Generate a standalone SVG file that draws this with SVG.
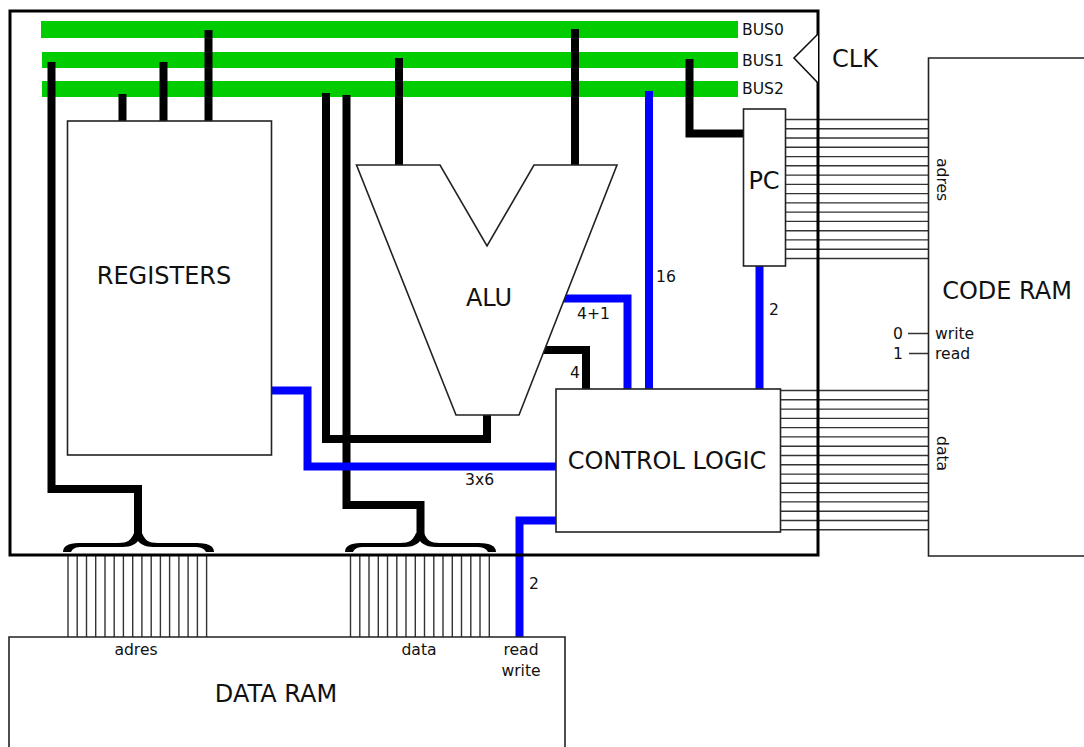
<svg xmlns="http://www.w3.org/2000/svg" width="1084" height="747" viewBox="0 0 1084 747">
<style>
text{font-family:"DejaVu Sans",sans-serif;fill:#111}
.s{font-size:15.600px}.l{font-size:24px}.m{font-size:24px}
.box{fill:#fff;stroke:#222;stroke-width:1.600}
.k{fill:none;stroke:#000;stroke-width:8}
.b{fill:none;stroke:#00f;stroke-width:8}
.w{fill:none;stroke:#333;stroke-width:1.400}
.g{fill:#0c0}
</style>
<defs><path id="brace" fill="#000" d="M-75 552C-75 544 -66 543 -56 543H-20C-10 543 -7 540 -4 533H4C7 540 10 543 20 543H56C66 543 76 544 76 552H68C66 548 62 547 56 547H18C10 547 4 546 0 541C-4 546 -10 547 -18 547H-56C-62 547 -65 548 -67 552Z"/></defs>
<rect width="1084" height="747" fill="#fff"/>
<g id="buses">
<rect class="g" x="41" y="21" width="697" height="17"/>
<rect class="g" x="42" y="52" width="696" height="16"/>
<rect class="g" x="42" y="81" width="696" height="16"/>
</g>
<g id="connectors">
<path class="w" d="M786 119.500H928M786 128.800H928M786 138H928M786 147.300H928M786 156.600H928M786 165.800H928M786 175.100H928M786 184.400H928M786 193.600H928M786 202.900H928M786 212.100H928M786 221.400H928M786 230.700H928M786 239.900H928M786 249.200H928M786 258.500H928"/>
<path class="w" d="M781 390.500H928M781 399.800H928M781 409.100H928M781 418.400H928M781 427.600H928M781 436.900H928M781 446.200H928M781 455.500H928M781 464.800H928M781 474.100H928M781 483.300H928M781 492.600H928M781 501.900H928M781 511.200H928M781 520.500H928M781 529.800H928"/>
<path class="w" d="M68 555V637M77.200 555V637M86.500 555V637M95.700 555V637M105 555V637M114.200 555V637M123.400 555V637M132.700 555V637M141.900 555V637M151.200 555V637M160.400 555V637M169.600 555V637M178.900 555V637M188.100 555V637M197.400 555V637M206.600 555V637"/>
<path class="w" d="M350.500 555V637M359.800 555V637M369 555V637M378.300 555V637M387.500 555V637M396.800 555V637M406 555V637M415.300 555V637M424.500 555V637M433.800 555V637M443 555V637M452.300 555V637M461.500 555V637M470.800 555V637M480 555V637M489.300 555V637"/>
<path class="k" d="M51.500 62V489H138V535"/>
<path class="k" d="M122.500 94V122M163.500 62V122M208.500 30V122"/>
<path class="k" d="M326 93V439H487V414"/>
<path class="k" d="M346.500 95V505H420.500V535"/>
<path class="k" d="M399 58V166M575 29V166"/>
<path class="k" d="M689.500 59V133.500H745"/>
<path class="k" d="M543 350H586V390"/>
<path class="b" d="M272 390.500H307.500V466.500H557"/>
<path class="b" d="M562 298.500H627.500V390"/>
<path class="b" d="M649 91V390"/>
<path class="b" d="M759.500 264V390"/>
<path class="b" d="M557 520.500H519.500V637"/>
<path class="w" d="M908 333.500H928M909 353.500H928" style="stroke-width:1.600"/>
<use href="#brace" x="138"/>
<use href="#brace" x="420"/>
</g>
<g id="cpu"><path d="M10 11H818V555H10Z" fill="none" stroke="#000" stroke-width="3"/>
<path d="M818 34L794 58L818 83" fill="#fff" stroke="#111" stroke-width="1.600"/></g>
<g id="registers"><rect class="box" x="67.500" y="121" width="204" height="334"/><text class="l" x="164" y="284" text-anchor="middle">REGISTERS</text></g>
<g id="alu"><path class="box" d="M356.500 165H440L487 246L534 165H617L519 415H456Z"/><text class="l" x="489" y="306" text-anchor="middle">ALU</text></g>
<g id="pc"><rect class="box" x="743.500" y="109" width="42" height="157"/><text class="l" x="764" y="189" text-anchor="middle">PC</text></g>
<g id="control-logic"><rect class="box" x="556" y="389" width="224.500" height="143"/><text class="l" x="667" y="469" text-anchor="middle">CONTROL LOGIC</text></g>
<g id="code-ram"><path class="box" d="M1090 58H928.500V556H1090"/><text class="l" x="1007" y="299" text-anchor="middle">CODE RAM</text>
<text class="s" x="935" y="339">write</text><text class="s" x="935" y="359">read</text>
<text class="s" transform="translate(937 158) rotate(90)">adres</text>
<text class="s" transform="translate(937 436) rotate(90)">data</text></g>
<g id="data-ram"><path class="box" d="M9 750V637H565V750"/><text class="l" x="276" y="702" text-anchor="middle">DATA RAM</text>
<text class="s" x="136" y="655" text-anchor="middle">adres</text><text class="s" x="419" y="655" text-anchor="middle">data</text>
<text class="s" x="521" y="655" text-anchor="middle">read</text><text class="s" x="521" y="676" text-anchor="middle">write</text></g>
<g id="labels">
<text class="s" x="742" y="35">BUS0</text><text class="s" x="742" y="66">BUS1</text><text class="s" x="742" y="94">BUS2</text>
<text class="m" x="832" y="67">CLK</text>
<text class="s" x="656" y="282">16</text><text class="s" x="769" y="315">2</text>
<text class="s" x="577" y="319">4+1</text><text class="s" x="570" y="378">4</text>
<text class="s" x="465" y="485">3x6</text><text class="s" x="529" y="589">2</text>
<text class="s" x="893" y="339">0</text><text class="s" x="893" y="359">1</text>
</g>
</svg>
